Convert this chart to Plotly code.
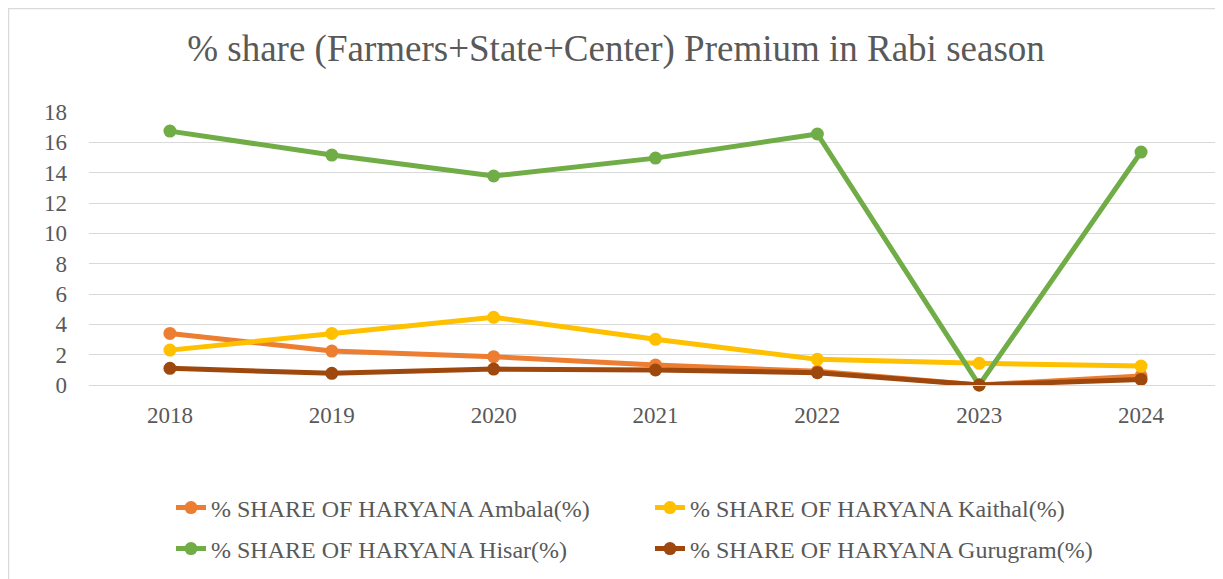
import plotly.graph_objects as go

years = ["2018", "2019", "2020", "2021", "2022", "2023", "2024"]
ambala = [3.4, 2.24, 1.87, 1.32, 0.9, 0.0, 0.6]
kaithal = [2.3, 3.4, 4.46, 3.01, 1.69, 1.43, 1.25]
hisar = [16.74, 15.16, 13.78, 14.96, 16.55, 0.0, 15.36]
gurugram = [1.1, 0.77, 1.05, 0.99, 0.81, 0.0, 0.37]

names = ["% SHARE OF HARYANA Ambala(%)", "% SHARE OF HARYANA Kaithal(%)",
         "% SHARE OF HARYANA Hisar(%)", "% SHARE OF HARYANA Gurugram(%)"]
series = [ambala, kaithal, hisar, gurugram]
colors = ["#ED7D31", "#FFC000", "#70AD47", "#9E480E"]
legends = ["legend", "legend", "legend2", "legend2"]

FONT = "Liberation Serif, Times New Roman, serif"
GRAY = "#595959"

fig = go.Figure()
for n, s, c, lg in zip(names, series, colors, legends):
    fig.add_trace(go.Scatter(
        x=years, y=s, name=n, mode="lines+markers",
        line=dict(color=c, width=5),
        marker=dict(color=c, size=13),
        cliponaxis=False, legend=lg,
    ))

# page has an 8px body margin; figure coordinates are screen - 8
W, H = 1215, 571
L, R, T, B = 81, 1, 104, 194
pw, ph = W - L - R, H - T - B

def px(x):
    return (x - L) / pw

def py(y):
    return (H - B - y) / ph

fig.update_layout(
    width=W, height=H,
    margin=dict(l=L, r=R, t=T, b=B),
    paper_bgcolor="white", plot_bgcolor="white",
    font=dict(family=FONT, color=GRAY, size=23),
    title=dict(text="% share (Farmers+State+Center) Premium in Rabi season",
               x=608 / W, xanchor="center", y=1 - 40 / H, yanchor="middle",
               xref="container", yref="container",
               font=dict(family=FONT, size=37, color=GRAY)),
    xaxis=dict(type="category", range=[-0.5, 6.5], showgrid=False,
               showline=True, linecolor="#d9d9d9", linewidth=1,
               ticks="", tickfont=dict(family=FONT, size=23, color=GRAY),
               ticklabelstandoff=9),
    yaxis=dict(range=[0, 18], dtick=2, showgrid=True, gridcolor="#d9d9d9",
               gridwidth=1, zeroline=False, showline=False, ticks="",
               tickfont=dict(family=FONT, size=23, color=GRAY),
               ticklabelstandoff=21),
    legend=dict(orientation="h", xref="container", yref="container",
                x=163 / W, y=1 - 500 / H, xanchor="left", yanchor="middle",
                entrywidth=434, font=dict(family=FONT, size=24, color=GRAY),
                bgcolor="rgba(0,0,0,0)"),
    legend2=dict(orientation="h", xref="container", yref="container",
                 x=163 / W, y=1 - 541 / H, xanchor="left", yanchor="middle",
                 entrywidth=434, font=dict(family=FONT, size=24, color=GRAY),
                 bgcolor="rgba(0,0,0,0)"),
    showlegend=True,
)

# outer chart border (left and top visible)
fig.add_shape(type="rect", xref="paper", yref="paper",
              x0=px(0.5), x1=px(1240), y0=py(600), y1=py(0.5),
              line=dict(color="#d9d9d9", width=1.5), fillcolor="rgba(0,0,0,0)",
              layer="below")

fig.write_html("out.html")
